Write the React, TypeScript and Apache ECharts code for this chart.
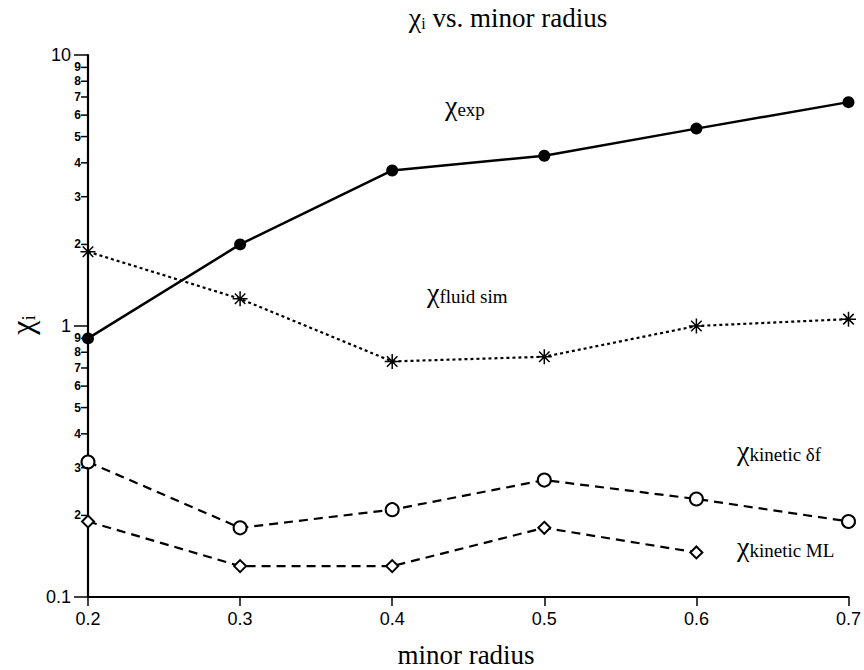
import React, { useEffect, useRef } from "react";
import * as echarts from "echarts";

const radius = [0.2, 0.3, 0.4, 0.5, 0.6, 0.7];
const chiExp = [0.9, 2.0, 3.75, 4.25, 5.35, 6.7];
const chiFluidSim = [1.88, 1.26, 0.74, 0.77, 1.0, 1.06];
const chiKineticDf = [0.315, 0.18, 0.21, 0.27, 0.23, 0.19];
const chiKineticML = [0.19, 0.13, 0.13, 0.18, 0.146, null];
const yMinorTicks = [0.2, 0.3, 0.4, 0.5, 0.6, 0.7, 0.8, 0.9, 2, 3, 4, 5, 6, 7, 8, 9];
const yMinorLabels = ["2", "3", "4", "5", "6", "7", "8", "9", "2", "3", "4", "5", "6", "7", "8", "9"];

const SERIF = '"Liberation Serif", "Times New Roman", serif';
const SANS = '"Liberation Sans", Arial, sans-serif';

const asterisk =
  "path://M-1,-10L1,-10L1,10L-1,10Z M-10,-1L10,-1L10,1L-10,1Z M-6.3,-7.7L7.7,6.3L6.3,7.7L-7.7,-6.3Z M6.3,-7.7L7.7,-6.3L-6.3,7.7L-7.7,6.3Z";

const pairs = (vals: (number | null)[]) =>
  radius.map((x, i) => [x, vals[i]]).filter((p) => p[1] !== null);

const chiLabel = (x: number, y: number, sub: string, size = 28, subSize = 19) => ({
  type: "text",
  x,
  y,
  style: {
    text: `{c|χ}{s|${sub}}`,
    rich: {
      c: { font: `${size}px ${SERIF}`, fill: "#000", verticalAlign: "bottom" },
      s: { font: `${subSize}px ${SERIF}`, fill: "#000", verticalAlign: "bottom" },
    },
    verticalAlign: "middle",
  },
});

export default function App() {
  const ref = useRef<HTMLDivElement>(null);
  useEffect(() => {
    if (!ref.current) return;
    const chart = echarts.init(ref.current, null, { renderer: "svg" });
    chart.setOption({
      animation: false,
      backgroundColor: "#fff",
      grid: { left: 88, right: 13, top: 55, bottom: 73, containLabel: false },
      xAxis: {
        type: "value",
        min: 0.2,
        max: 0.7,
        interval: 0.1,
        splitLine: { show: false },
        axisLine: { lineStyle: { color: "#000", width: 2.2 } },
        axisTick: { inside: false, length: 9, lineStyle: { color: "#000", width: 1.5 } },
        axisLabel: {
          color: "#000",
          fontFamily: SANS,
          fontSize: 18,
          margin: 13,
          formatter: (v: number) => v.toFixed(1),
        },
      },
      yAxis: {
        type: "log",
        logBase: 10,
        min: 0.1,
        max: 10,
        splitLine: { show: false },
        axisLine: { lineStyle: { color: "#000", width: 2.2 } },
        axisTick: { inside: false, length: 14, lineStyle: { color: "#000", width: 1.5 } },
        axisLabel: {
          color: "#000",
          fontFamily: SANS,
          fontSize: 18,
          margin: 17,
          formatter: (v: number) => (v < 1 ? "0.1" : String(Math.round(v))),
        },
      },
      graphic: [
        {
          type: "text",
          x: 508,
          y: 17,
          style: {
            text: "{c|χ}{s|i}{t| vs. minor radius}",
            align: "center",
            verticalAlign: "middle",
            rich: {
              c: { font: `28px ${SERIF}`, fill: "#000", verticalAlign: "bottom" },
              s: { font: `16px ${SERIF}`, fill: "#000", verticalAlign: "bottom" },
              t: { font: `27px ${SERIF}`, fill: "#000", verticalAlign: "bottom" },
            },
          },
        },
        {
          type: "text",
          x: 466,
          y: 655,
          style: {
            text: "minor radius",
            font: `27px ${SERIF}`,
            fill: "#000",
            align: "center",
            verticalAlign: "middle",
          },
        },
        {
          type: "text",
          x: 22,
          y: 325,
          rotation: Math.PI / 2,
          style: {
            text: "{c|χ}{s|i}",
            align: "center",
            verticalAlign: "middle",
            rich: {
              c: { font: `32px ${SERIF}`, fill: "#000", verticalAlign: "bottom" },
              s: { font: `19px ${SERIF}`, fill: "#000", verticalAlign: "bottom" },
            },
          },
        },
        chiLabel(445, 105, "exp"),
        chiLabel(427, 292, "fluid sim"),
        chiLabel(737, 450, "kinetic δf"),
        chiLabel(737, 546, "kinetic ML"),
      ],
      series: [
        {
          name: "χexp",
          type: "line",
          data: pairs(chiExp),
          symbol: "circle",
          symbolSize: 12,
          lineStyle: { color: "#000", width: 2.5 },
          itemStyle: { color: "#000" },
          z: 3,
        },
        {
          name: "χfluid sim",
          type: "line",
          data: pairs(chiFluidSim),
          symbol: asterisk,
          symbolSize: 15,
          lineStyle: { color: "#000", width: 2.2, type: [3, 3] },
          itemStyle: { color: "#000" },
          z: 3,
        },
        {
          name: "χkinetic δf",
          type: "line",
          data: pairs(chiKineticDf),
          symbol: "emptyCircle",
          symbolSize: 13,
          lineStyle: { color: "#000", width: 2.2, type: [9, 6] },
          itemStyle: { color: "#000", borderColor: "#000", borderWidth: 1.5 },
          z: 3,
        },
        {
          name: "χkinetic ML",
          type: "line",
          data: pairs(chiKineticML),
          symbol: "emptyDiamond",
          symbolSize: 12,
          lineStyle: { color: "#000", width: 2.2, type: [9, 6] },
          itemStyle: { color: "#000", borderColor: "#000", borderWidth: 1.5 },
          z: 3,
        },
        {
          type: "custom",
          silent: true,
          clip: false,
          z: 5,
          data: yMinorTicks.map((v, i) => [0.2, v, i]),
          renderItem: (params: any, api: any) => {
            const p = api.coord([api.value(0), api.value(1)]);
            const idx = api.value(2);
            return {
              type: "group",
              children: [
                {
                  type: "line",
                  shape: { x1: p[0] - 7, y1: p[1], x2: p[0], y2: p[1] },
                  style: { stroke: "#000", lineWidth: 1.5 },
                },
                {
                  type: "text",
                  x: p[0] - 7,
                  y: p[1],
                  style: {
                    text: yMinorLabels[idx],
                    align: "right",
                    verticalAlign: "middle",
                    font: `bold 12px ${SANS}`,
                    fill: "#000",
                  },
                },
              ],
            };
          },
        },
      ],
    });
    return () => chart.dispose();
  }, []);
  return (
    <div
      ref={ref}
      style={{ position: "fixed", left: 0, top: 0, width: 864, height: 670, background: "#fff" }}
    />
  );
}
